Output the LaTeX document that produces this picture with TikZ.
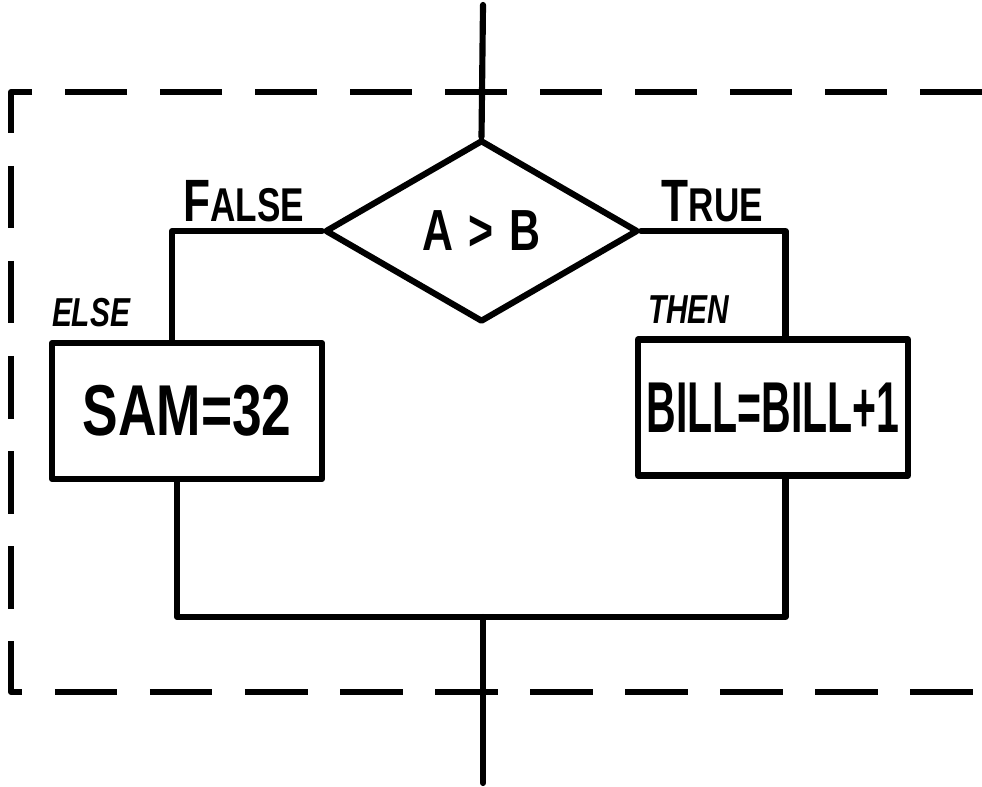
\documentclass[tikz,border=0pt]{standalone}
\usepackage{fontspec}
\newfontfamily\handfont[FakeStretch=0.57]{Liberation Sans}
\newfontfamily\handwide[FakeStretch=0.74]{Liberation Sans}
\usetikzlibrary{shapes.geometric, positioning}

\begin{document}
\begin{tikzpicture}[
    line width=3.5pt, line join=round, line cap=round,
    decision/.style={draw, diamond, minimum width=6.26cm, minimum height=3.64cm, inner sep=0pt, font=\handwide\bfseries\fontsize{33}{33}\selectfont},
    action/.style={draw, rectangle, minimum width=5.4cm, minimum height=2.72cm, inner sep=0pt, font=\handfont\bfseries\fontsize{41}{41}\selectfont},
    branch/.style={inner sep=0pt, font=\handwide\bfseries\fontsize{34}{34}\selectfont},
    hint/.style={inner sep=0pt, font=\handwide\bfseries\itshape\fontsize{23}{23}\selectfont},
    frame/.style={dash pattern=on 1.25cm off 0.65cm, line cap=butt}
]
  \useasboundingbox (0,0) rectangle (19.64,15.72);

  % the IF block
  \draw[frame] (19.64,13.88) -- (0.22,13.88) -- (0.22,1.88) -- (19.64,1.88);

  \coordinate (entry) at (9.66,15.62);
  \coordinate (join) at (9.66,3.38);
  \coordinate (exit) at (9.66,0.06);

  \node[decision] (cond) at (9.63,11.1) {A\hspace{0.3cm}>\hspace{0.3cm}B};
  \node[action] (sam) at (3.74,7.5) {\handwide SAM=32};
  \node[action] (bill) at (15.46,7.57) {BILL=BILL+1};

  \node[branch, above left=0.12cm and 0.3cm of cond.west] (false) {F{\fontsize{27}{27}\selectfont ALSE}};
  \node[branch, above right=0.12cm and 0.35cm of cond.east] (true) {T{\fontsize{27}{27}\selectfont RUE}};
  \node[hint, above right=0.2cm and 0cm of sam.north west] (else) {ELSE};
  \node[hint, above right=0.2cm and 0.2cm of bill.north west] (then) {THEN};

  \draw (entry) -- (cond.north);
  \draw (cond.west) -| ([xshift=-3mm]sam.north);
  \draw (cond.east) -| ([xshift=2.5mm]bill.north);
  \draw ([xshift=-2mm]sam.south) |- (join) -| ([xshift=2.5mm]bill.south);
  \draw (join) -- (exit);
\end{tikzpicture}
\end{document}
